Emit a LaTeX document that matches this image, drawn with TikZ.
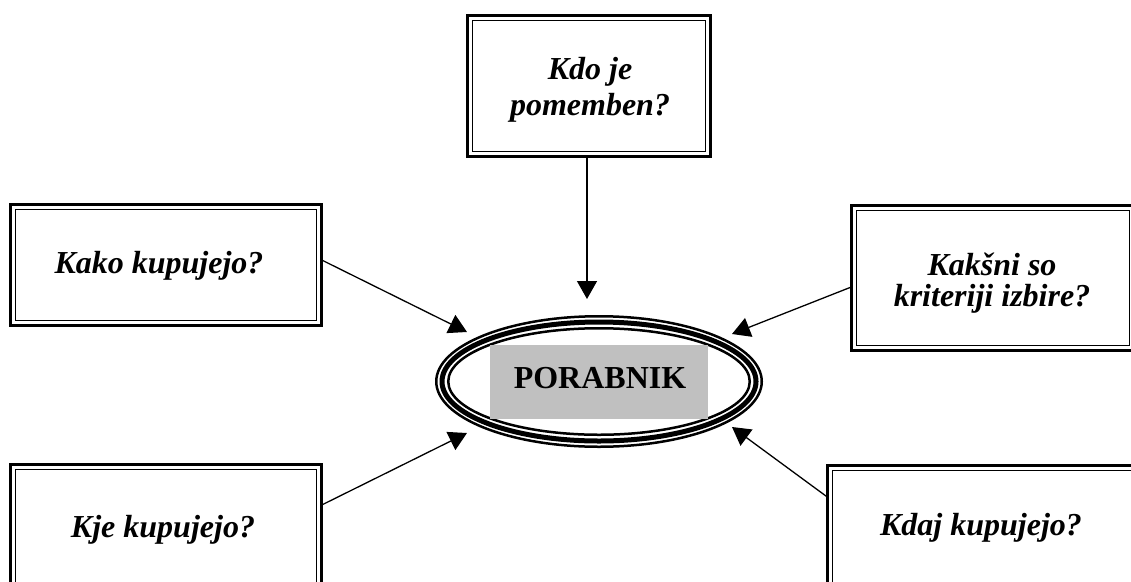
\documentclass[tikz,border=0pt]{standalone}
\usepackage{fontspec}
\setmainfont{Liberation Serif}
\usetikzlibrary{arrows.meta,shapes.geometric,calc}
\definecolor{coregray}{HTML}{C0C0C0}
\tikzset{
  boxframe/.style={draw, line width=2.6pt, inner sep=0pt, outer sep=0pt,
    path picture={\draw[line width=1.5pt]
      ([shift={(5pt,5pt)}]path picture bounding box.south west) rectangle
      ([shift={(-5pt,-5pt)}]path picture bounding box.north east);}},
  qtext/.style={anchor=base, inner sep=0pt, font=\fontsize{32}{38}\selectfont\bfseries\itshape},
  arr/.style={line width=1.3pt, -{Triangle[length=18pt,width=20pt]}},
  ring/.style={line width=#1},
}
\begin{document}
\begin{tikzpicture}[x=1pt,y=-1pt]
\useasboundingbox (0,0) rectangle (1131,581);
\fill[white] (0,0) rectangle (1131,581);

% boxes
\node[boxframe, minimum width=243.4pt, minimum height=141.4pt] (b1) at (589,86) {};
\node[boxframe, minimum width=311.4pt, minimum height=121.4pt] (b2) at (166,265) {};
\node[boxframe, minimum width=283.4pt, minimum height=145.4pt] (b3) at (993,278) {};
\node[boxframe, minimum width=311.4pt, minimum height=134.4pt] (b4) at (166,531.5) {};
\node[boxframe, minimum width=311.4pt, minimum height=133.4pt] (b5) at (983,532) {};

% texts
\node[qtext] (t1a) at (590,79) {Kdo je};
\node[qtext] (t1b) at (590,115) {pomemben?};
\node[qtext] (t2) at (159,273) {Kako kupujejo?};
\node[qtext] (t3a) at (992,275) {Kakšni so};
\node[qtext] (t3b) at (992,306) {kriteriji izbire?};
\node[qtext] (t4) at (163,537) {Kje kupujejo?};
\node[qtext] (t5) at (981,535) {Kdaj kupujejo?};

% central ellipse
\node[ellipse, minimum width=328pt, minimum height=133pt, inner sep=0pt] (e) at (599,381.5) {};
\draw[ring=2.5pt] (e.center) ellipse [x radius=162.75pt, y radius=65.25pt];
\draw[ring=5pt] (e.center) ellipse [x radius=157pt, y radius=59.5pt];
\draw[ring=2.5pt] (e.center) ellipse [x radius=150.75pt, y radius=53.25pt];
\node[fill=coregray, minimum width=218pt, minimum height=74pt, inner sep=0pt] (core) at (599,382) {};
\node[anchor=base, inner sep=0pt, font=\fontsize{32}{40}\selectfont\bfseries] (ct) at (600,388) {PORABNIK};

% arrow tips
\coordinate (p1) at (587,299);
\coordinate (p2) at (467,332);
\coordinate (p3) at (732,334);
\coordinate (p4) at (467,433);
\coordinate (p5) at (732,427);

\draw[arr] ([xshift=-2pt]b1.south) -- (p1);
\draw[arr] ([yshift=5pt]b2.east) -- (p2);
\draw[arr] ([yshift=-9pt]b3.west) -- (p3);
\draw[arr] ([yshift=26.5pt]b4.east) -- (p4);
\draw[arr] ([yshift=35pt]b5.west) -- (p5);
\end{tikzpicture}
\end{document}
